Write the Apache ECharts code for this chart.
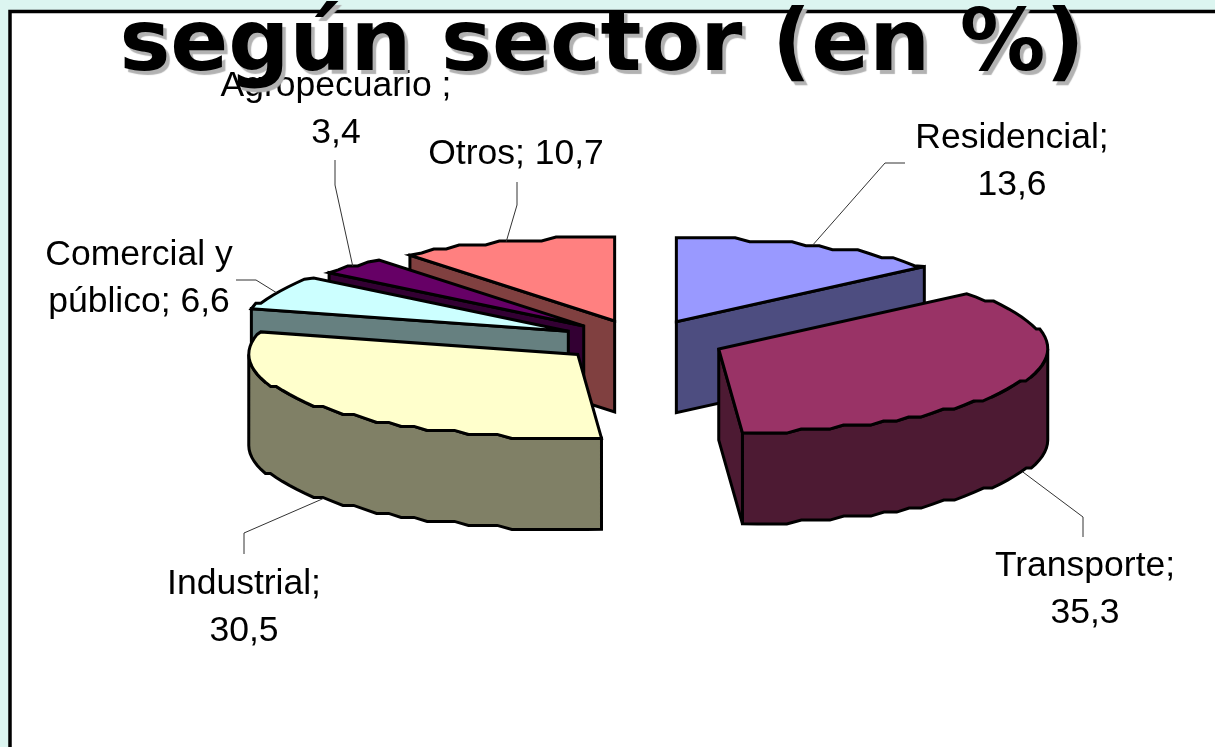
<!DOCTYPE html>
<html><head><meta charset="utf-8">
<style>html,body{margin:0;padding:0;background:#fff}#c{width:1215px;height:747px}</style>
<script src="https://cdn.jsdelivr.net/npm/echarts@6/dist/echarts.min.js"></script>
</head><body><div id="c"></div>
<script>
// ---- data ----
const titleText = 'según sector (en %)';
const categories = ['Residencial', 'Transporte', 'Industrial', 'Comercial y\npúblico', 'Agropecuario', 'Otros'];
const values = [13.6, 35.3, 30.5, 6.6, 3.4, 10.7];
const separators = [';\n', ';\n', ';\n', '; ', ' ;\n', '; '];
// ---- style ----
const topColors  = ['#9999ff', '#993366', '#ffffcc', '#ccffff', '#660066', '#ff8080'];
const sideColors = ['#4d4d80', '#4d1a33', '#808066', '#668080', '#330033', '#804040'];
const paintOrder = [1, 2, 6, 5, 4, 3];
// ---- 3D pie layout ----
const CX = 642, CY = 341, RX = 329, RY = 84, DEPTH = 91, EXPLODE = 83;
const labelCenters = [[1012, 162], [1085, 590], [244, 608], [139, 279], [336, 110], [516, 154]];
const leaderElbows = [
  [[885, 163], [905, 163]], [[1083, 517], [1083, 537]], [[244, 533], [244, 554]],
  [[256, 280], [236, 280]], [[335, 185], [335, 160]], [[517, 205], [517, 182]]
];
const total = values.reduce((a, b) => a + b, 0);
const rad = d => d * Math.PI / 180;

function slice(idx) {
  let before = 0;
  for (let i = 0; i < idx; i++) before += values[i];
  const a0 = before / total * 360, a1 = (before + values[idx]) / total * 360, mid = (a0 + a1) / 2;
  const ax = CX + EXPLODE * Math.sin(rad(mid));
  const ay = CY - EXPLODE * (RY / RX) * Math.cos(rad(mid));
  return { a0, a1, mid, ax, ay };
}
function rim(s, deg) { return [s.ax + RX * Math.sin(rad(deg)), s.ay - RY * Math.cos(rad(deg))]; }
// polyline along the rim with the coarse stepping of the original drawing
function arc(s, from, to) {
  const pts = [], step = 2.6, n = Math.max(1, Math.round((to - from) / step));
  for (let i = 0; i <= n; i++) {
    const p = rim(s, from + (to - from) * i / n);
    if (i > 0 && i < n) p[1] = s.ay + Math.round((p[1] - s.ay) / 4) * 4;
    pts.push(p);
  }
  return pts;
}
const down = p => [p[0], p[1] + DEPTH];
const stroke = { stroke: '#000', lineWidth: 3, lineJoin: 'miter', miterLimit: 5 };

function renderSlice(params, api) {
  const i = params.dataIndex, s = slice(i), base = paintOrder[i] * 10;
  const apex = [s.ax, s.ay], st = rim(s, s.a0), en = rim(s, s.a1);
  const side = sideColors[i];
  const kids = [];
  const poly = (points, fill, z) => kids.push({
    type: 'polygon', z2: base + z, shape: { points },
    style: Object.assign({ fill }, stroke)
  });
  // radial cut faces only where they turn towards the viewer
  if (Math.sin(rad(s.a0)) < 0) poly([apex, st, down(st), down(apex)], side, 0);
  if (Math.sin(rad(s.a1)) > 0) poly([apex, en, down(en), down(apex)], side, 1);
  const w0 = Math.max(s.a0, 90), w1 = Math.min(s.a1, 270);
  if (w1 > w0) {
    const top = arc(s, w0, w1);
    poly(top.concat(top.map(down).reverse()), side, 2);
  }
  poly([apex].concat(arc(s, s.a0, s.a1)), topColors[i], 3);

  // leader line and label
  let anchor = rim(s, s.mid);
  if (s.mid > 90 && s.mid < 270) anchor = down(anchor);
  kids.push({
    type: 'polyline', z2: 90, shape: { points: [anchor].concat(leaderElbows[i]) },
    style: { fill: 'none', stroke: '#333', lineWidth: 1 }
  });
  kids.push({
    type: 'text', z2: 91, x: labelCenters[i][0], y: labelCenters[i][1],
    style: {
      text: categories[i] + separators[i] + String(api.value(0)).replace('.', ','),
      fill: '#000', font: '35.5px "Liberation Sans"', lineHeight: 47,
      align: 'center', verticalAlign: 'middle'
    }
  });
  return { type: 'group', children: kids };
}

const chart = echarts.init(document.getElementById('c'), null, { renderer: 'canvas' });
chart.setOption({
  backgroundColor: '#dcf5f0',
  animation: false,
  title: {
    text: titleText, left: 597, top: 0, textAlign: 'center', z: 20,
    textStyle: {
      fontFamily: 'DejaVu Sans', fontWeight: 'bold', fontSize: 85.5, color: '#000',
      textShadowColor: '#b2b2b2', textShadowBlur: 1, textShadowOffsetX: 3.5, textShadowOffsetY: 3.5
    }
  },
  graphic: [{
    type: 'rect', z: 0, shape: { x: 10, y: 11.5, width: 1400, height: 900 },
    style: { fill: '#fff', stroke: '#000', lineWidth: 3.5 }
  }],
  series: [{
    type: 'custom', coordinateSystem: 'none', z: 5, silent: true,
    renderItem: renderSlice,
    data: values.map((v, i) => ({ name: categories[i], value: [v] }))
  }]
});
</script></body></html>
